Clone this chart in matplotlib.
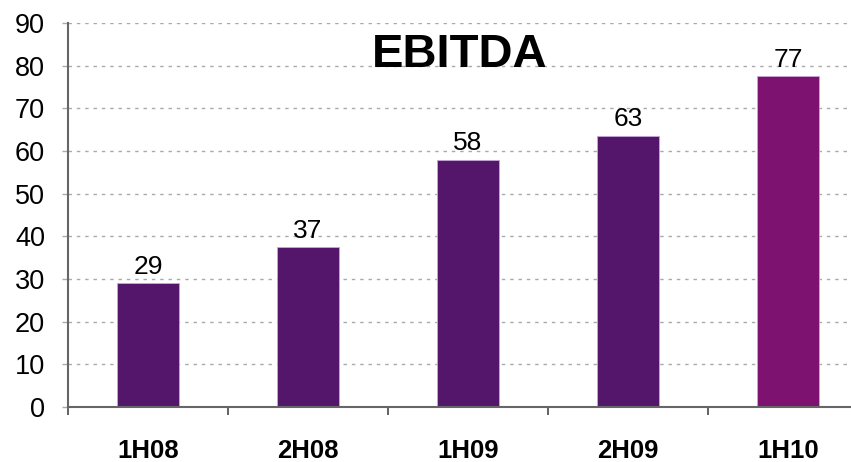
import matplotlib
matplotlib.use("Agg")
import matplotlib.pyplot as plt
import numpy as np

categories = ["1H08", "2H08", "1H09", "2H09", "1H10"]
values = [29.0, 37.4, 58.0, 63.6, 77.5]
value_labels = ["29", "37", "58", "63", "77"]
bar_colors = ["#54166A", "#54166A", "#54166A", "#54166A", "#7E1270"]
title = "EBITDA"
yticks = list(range(0, 91, 10))

plt.rcParams['font.family'] = ['Liberation Sans', 'DejaVu Sans']

fig = plt.figure(figsize=(8.51, 4.62), dpi=100)
ax = fig.add_axes([68/851, 55/462, 800/851, 384/462])

x = np.arange(len(categories))
ax.bar(x, values, width=0.39, color=bar_colors, edgecolor="#C9A6D6", linewidth=0.6, zorder=3)

for xi, v, lab in zip(x, values, value_labels):
    ax.text(xi, v + 1.1, lab, ha="center", va="bottom", fontsize=19, color="black", zorder=4)

ax.set_xlim(-0.5, len(categories) - 0.5)
ax.set_ylim(0, 90)
ax.set_yticks(yticks)
ax.set_yticklabels([str(t) for t in yticks])
ax.set_xticks(x)
ax.set_xticklabels(categories, fontsize=18.5, fontweight="bold")
ax.set_xticks(np.arange(-0.5, len(categories), 1.0), minor=True)

ax.tick_params(axis="x", which="major", length=0, pad=23)
ax.tick_params(axis="x", which="minor", length=6, width=1.3, color="#555555", direction="out")
ax.tick_params(axis="y", which="major", length=4.5, width=1, color="#aaaaaa", labelsize=19.5, pad=12)

ax.yaxis.grid(True, linestyle=(0, (2.5, 3.5)), color="#aaaaaa", linewidth=1, zorder=0)
ax.set_axisbelow(True)

for s in ["top", "right"]:
    ax.spines[s].set_visible(False)
for s in ["left", "bottom"]:
    ax.spines[s].set_color("#666666")
    ax.spines[s].set_linewidth(1.5)
ax.spines["bottom"].set_zorder(5)

fig.text(460/851, (462 - 55)/462, title, ha="center", va="center", fontsize=34, fontweight="bold")

fig.savefig("out.png", dpi=100)
